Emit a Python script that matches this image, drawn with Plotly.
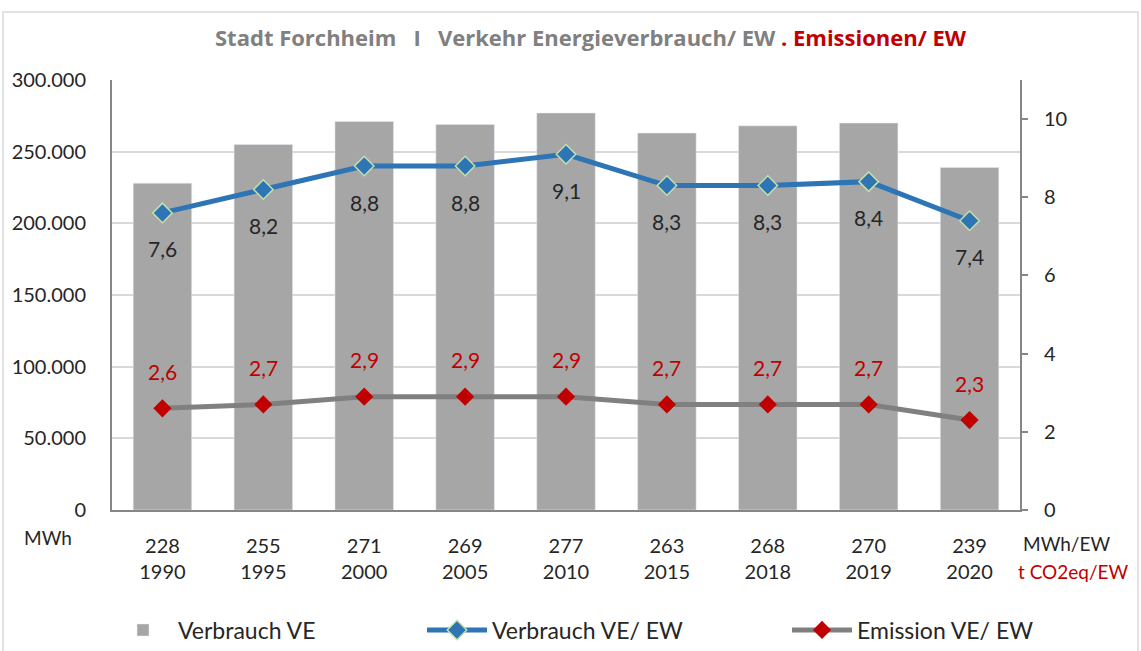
import plotly.graph_objects as go

years = ["1990", "1995", "2000", "2005", "2010", "2015", "2018", "2019", "2020"]
verbrauch_ve = [228000, 255000, 271000, 269000, 277000, 263000, 268000, 270000, 239000]
verbrauch_ew = [7.6, 8.2, 8.8, 8.8, 9.1, 8.3, 8.3, 8.4, 7.4]
emission_ew = [2.6, 2.7, 2.9, 2.9, 2.9, 2.7, 2.7, 2.7, 2.3]
ew_labels = ["228", "255", "271", "269", "277", "263", "268", "270", "239"]

FONT = "Lato"
TITLE_FONT = "Open Sans"
GRAY_TXT = "#808080"
RED = "#C00000"
BLUE = "#2E75B6"
AXIS = "#868686"

W, H = 1141, 651
L, R, T, B = 112, 1020, 80, 510


def px_x(p):
    return (p - L) / (R - L)


def px_y(p):
    return (B - p) / (B - T)


idx = list(range(len(years)))
ticktext = [f"{a}<br>{y}" for a, y in zip(ew_labels, years)]

fig = go.Figure()
fig.add_trace(go.Bar(
    x=idx, y=verbrauch_ve, name="Verbrauch VE", marker_color="#A6A6A6",
    width=0.58, legend="legend",
))
fig.add_trace(go.Scatter(
    x=idx, y=verbrauch_ew, name="Verbrauch VE/ EW", yaxis="y2", mode="lines+markers",
    line=dict(color=BLUE, width=5),
    marker=dict(symbol="diamond", size=15, color=BLUE, line=dict(color="#C5DFA8", width=1.5)),
    legend="legend2",
))
fig.add_trace(go.Scatter(
    x=idx, y=emission_ew, name="Emission VE/ EW", yaxis="y2", mode="lines+markers",
    line=dict(color="#808080", width=5),
    marker=dict(symbol="diamond", size=14, color=RED),
    legend="legend3",
))

annotations = []
for i, v in zip(idx, verbrauch_ew):
    annotations.append(dict(x=i, y=v, xref="x", yref="y2", text=f"{v:.1f}".replace(".", ","),
                            showarrow=False, yshift=-36, yanchor="middle", xanchor="center",
                            font=dict(size=21, color="#262626", family=FONT)))
for i, v in zip(idx, emission_ew):
    annotations.append(dict(x=i, y=v, xref="x", yref="y2", text=f"{v:.1f}".replace(".", ","),
                            showarrow=False, yshift=37, yanchor="middle", xanchor="center",
                            font=dict(size=21, color=RED, family=FONT)))

annotations += [
    dict(x=px_x(591), y=px_y(37), xref="paper", yref="paper", showarrow=False,
         xanchor="center", yanchor="middle",
         text="<b>Stadt Forchheim&nbsp;&nbsp;&nbsp;I&nbsp;&nbsp;&nbsp;Verkehr Energieverbrauch/ EW "
              "<span style='color:#C00000'>. Emissionen/ EW</span></b>",
         font=dict(size=22, color=GRAY_TXT, family=TITLE_FONT)),
    dict(x=px_x(48), y=px_y(537), xref="paper", yref="paper", showarrow=False,
         xanchor="center", yanchor="middle",
         text="MWh", font=dict(size=19, color="#262626", family=FONT)),
    dict(x=px_x(1066), y=px_y(543), xref="paper", yref="paper", showarrow=False,
         xanchor="center", yanchor="middle",
         text="MWh/EW", font=dict(size=19, color="#262626", family=FONT)),
    dict(x=px_x(1073), y=px_y(571), xref="paper", yref="paper", showarrow=False,
         xanchor="center", yanchor="middle",
         text="t CO2eq/EW", font=dict(size=19, color=RED, family=FONT)),
]

shapes = [
    dict(type="rect", xref="paper", yref="paper",
         x0=px_x(3), x1=px_x(1138), y0=px_y(12), y1=px_y(660),
         line=dict(color="#D9D9D9", width=1.5), layer="below"),
]

leg_common = dict(orientation="h", xanchor="left", yanchor="middle", bgcolor="rgba(0,0,0,0)",
                  itemwidth=60,
                  font=dict(size=23, color="#262626", family=FONT), xref="container", yref="container")

fig.update_layout(
    width=W, height=H,
    margin=dict(l=L, r=W - R, t=T, b=H - B, pad=0, autoexpand=False),
    paper_bgcolor="white", plot_bgcolor="white",
    separators=",.",
    font=dict(family=FONT, size=20, color="#262626"),
    xaxis=dict(range=[-0.5, 8.5], tickvals=idx, ticktext=ticktext, showgrid=False,
               showline=True, linecolor=AXIS, linewidth=2, ticks="", ticklabelstandoff=17,
               tickfont=dict(size=20, color="#262626", family=FONT), zeroline=False,
               automargin=False),
    yaxis=dict(range=[0, 300000], dtick=50000, tickformat=",.0f", showgrid=True,
               gridcolor="#D9D9D9", gridwidth=1.5, showline=True, linecolor=AXIS, linewidth=2,
               ticks="", ticklabelstandoff=20, zeroline=False, automargin=False,
               tickfont=dict(size=20, color="#262626", family=FONT)),
    yaxis2=dict(range=[0, 11], tickvals=[0, 2, 4, 6, 8, 10], overlaying="y", side="right",
                showgrid=False, showline=True, linecolor=AXIS, linewidth=2, ticks="outside",
                ticklen=6, tickcolor=AXIS, tickwidth=2, ticklabelstandoff=12, zeroline=False,
                automargin=False, tickfont=dict(size=20, color="#262626", family=FONT)),
    showlegend=True,
    legend=dict(x=108 / W, y=1 - 630 / H, **leg_common),
    legend2=dict(x=422 / W, y=1 - 630 / H, **leg_common),
    legend3=dict(x=787 / W, y=1 - 630 / H, **leg_common),
    annotations=annotations,
    shapes=shapes,
)

fig.write_html("out.html", config={"displayModeBar": False},
               post_script="document.body.style.margin='0';document.body.style.overflow='hidden';")
